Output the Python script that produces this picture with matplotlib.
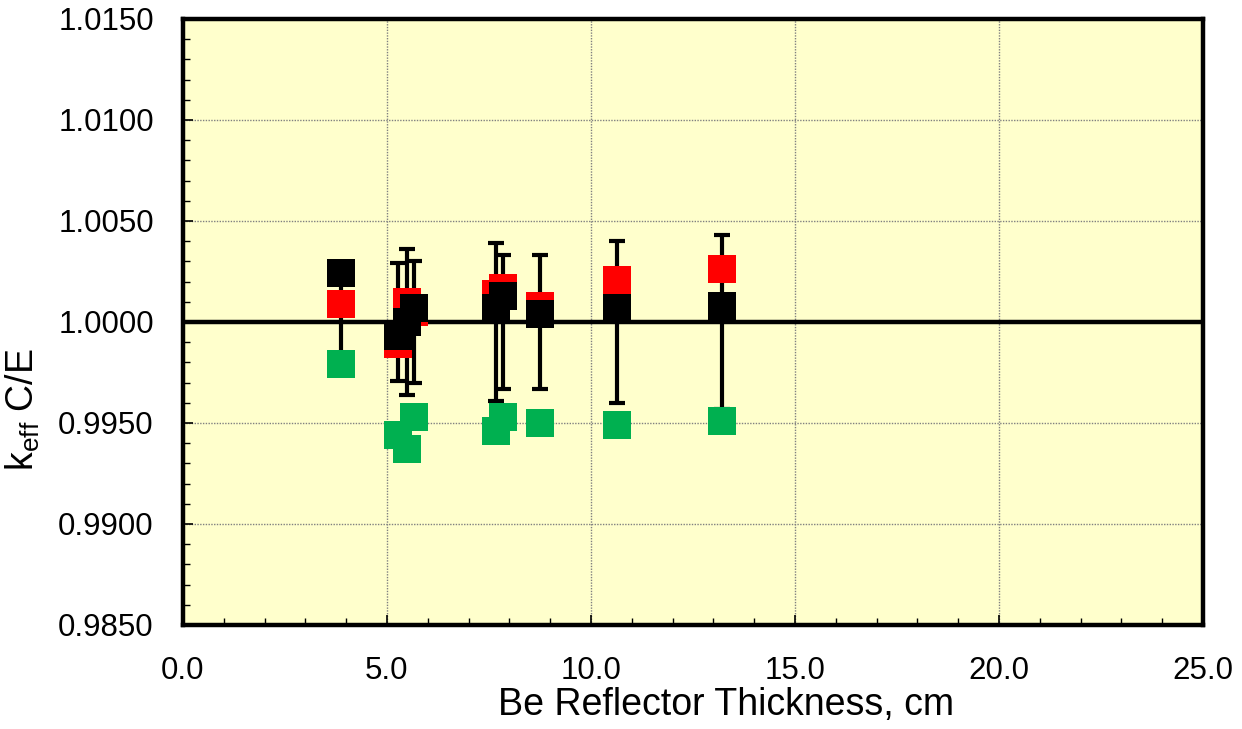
import matplotlib
matplotlib.use('Agg')
import matplotlib.pyplot as plt
from matplotlib.ticker import MultipleLocator, FormatStrFormatter

plt.rcParams['font.family'] = ['Liberation Sans', 'DejaVu Sans']
plt.rcParams['mathtext.fontset'] = 'custom'
plt.rcParams['mathtext.rm'] = 'Liberation Sans'

# Be reflector thickness of each experiment, cm
thickness = [3.87, 5.28, 5.50, 5.66, 7.67, 7.84, 8.74, 10.63, 13.21]

# C/E values of the three calculations (red, black, green)
ce_red = [1.0009, 0.9989, 1.0010, 1.0005, 1.0014, 1.0017, 1.0008, 1.0021, 1.0026]
ce_black = [1.0024, 0.9993, 1.0000, 1.0007, 1.0007, 1.0013, 1.0004, 1.0007, 1.0008]
ce_green = [0.9979, 0.9944, 0.9937, 0.9953, 0.9946, 0.9953, 0.9950, 0.9949, 0.9951]

# experimental uncertainty, drawn around C/E = 1
exp_unc = [0.0020, 0.0029, 0.0036, 0.0030, 0.0039, 0.0033, 0.0033, 0.0040, 0.0043]

fig = plt.figure(figsize=(12.42, 7.29), dpi=100)
ax = fig.add_axes([0.1473, 0.1427, 0.8213, 0.8313])
ax.set_facecolor('#FFFFCC')

ax.set_xlim(0, 25)
ax.set_ylim(0.985, 1.015)

# grid on major ticks only
ax.grid(True, which='major', color='#808080', linestyle=(0, (1, 1)), linewidth=1.0, zorder=0)
ax.set_axisbelow(True)

# reference line at C/E = 1
ax.axhline(1.0, color='black', linewidth=3.2, zorder=2)

# experimental error bars centred on 1.0
ax.errorbar(thickness, [1.0] * len(thickness), yerr=exp_unc, fmt='none',
            ecolor='black', elinewidth=3.0, capsize=6, capthick=3.0, zorder=2)

ax.plot(thickness, ce_green, linestyle='none', marker='s', markersize=20,
        color='#00B050', markeredgewidth=0, zorder=3)
ax.plot(thickness, ce_red, linestyle='none', marker='s', markersize=20,
        color='#FF0000', markeredgewidth=0, zorder=4)
ax.plot(thickness, ce_black, linestyle='none', marker='s', markersize=20,
        color='black', markeredgewidth=0, zorder=5)

ax.xaxis.set_major_locator(MultipleLocator(5))
ax.xaxis.set_minor_locator(MultipleLocator(1))
ax.yaxis.set_major_locator(MultipleLocator(0.005))
ax.yaxis.set_minor_locator(MultipleLocator(0.001))
ax.xaxis.set_major_formatter(FormatStrFormatter('%.1f'))
ax.yaxis.set_major_formatter(FormatStrFormatter('%.4f'))

ax.tick_params(which='both', direction='in', color='black', labelsize=22.5)
ax.tick_params(which='major', length=7, width=1.2)
ax.tick_params(which='minor', length=5, width=1.0)
ax.tick_params(axis='y', which='major', pad=21)
ax.tick_params(axis='x', which='major', pad=22)

for side in ax.spines.values():
    side.set_linewidth(3.2)
    side.set_color('black')

ax.set_xlabel('Be Reflector Thickness, cm', fontsize=27)
ax.set_ylabel(r'k$_{\mathregular{eff}}$ C/E', fontsize=27)
# labels sit a bit off-centre in the original
ax.xaxis.set_label_coords(0.532, -0.103)
ax.yaxis.set_label_coords(-0.138, 0.355)

fig.savefig('out.png', dpi=100)
